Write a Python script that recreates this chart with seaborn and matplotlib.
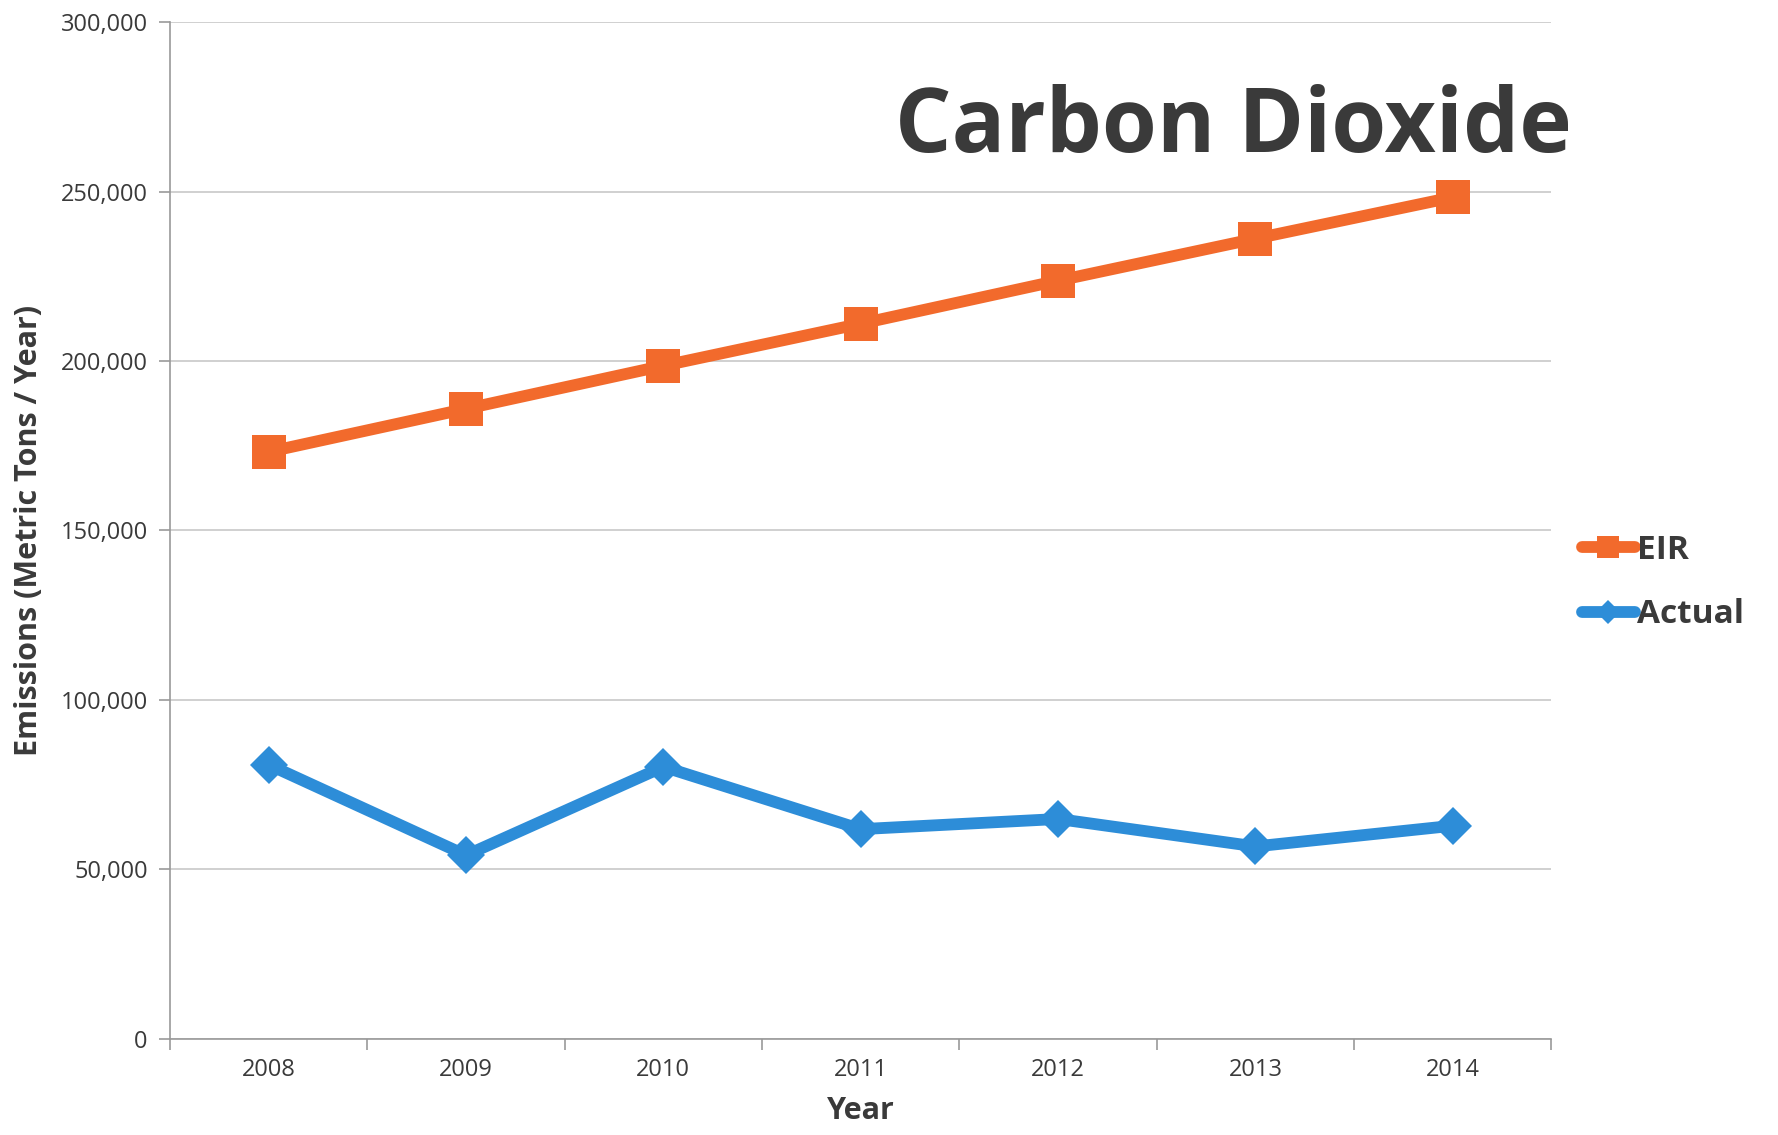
import matplotlib.pyplot as plt
import pandas as pd
import seaborn as sns
from matplotlib.ticker import FuncFormatter

years = ["2008", "2009", "2010", "2011", "2012", "2013", "2014"]
eir_values = [173200, 185900, 198600, 211000, 223700, 236100, 248300]
actual_values = [80900, 54200, 80300, 61900, 64900, 56800, 62900]
y_ticks = [0, 50000, 100000, 150000, 200000, 250000, 300000]

ORANGE = "#F26A2C"
BLUE = "#2D8DD8"
TEXT = "#3a3a3a"

sns.set_theme(style="white")
plt.rcParams["font.family"] = ["Open Sans", "DejaVu Sans"]

df = pd.DataFrame({"Year": years, "EIR": eir_values, "Actual": actual_values})

fig = plt.figure(figsize=(17.78, 11.35), dpi=100)
ax = fig.add_axes([0.0956, 0.0846, 0.777, 0.896])

sns.lineplot(data=df, x="Year", y="EIR", ax=ax, color=ORANGE, lw=8.5,
             marker="s", markersize=25, markeredgewidth=0, label="EIR", sort=False)
sns.lineplot(data=df, x="Year", y="Actual", ax=ax, color=BLUE, lw=8.5,
             marker="D", markersize=19, markeredgewidth=0, label="Actual", sort=False)

ax.set_xlim(-0.5, len(years) - 0.5)
ax.set_ylim(0, 300000)
ax.set_yticks(y_ticks)
ax.yaxis.set_major_formatter(FuncFormatter(lambda v, p: f"{int(v):,}"))
ax.grid(axis="y", color="#c8c8c8", lw=1.2)
ax.set_axisbelow(True)

# category boundary ticks on the x axis
ax.set_xticks([i - 0.5 for i in range(len(years) + 1)], minor=True)
ax.tick_params(axis="x", which="major", length=0, pad=14, labelsize=17, labelcolor=TEXT)
ax.tick_params(axis="x", which="minor", length=8, color="#999999", width=1.2, direction="out")
ax.tick_params(axis="y", length=8, color="#999999", width=1.2, direction="out",
               labelsize=17, labelcolor=TEXT, pad=8)
ax.yaxis.set_ticks_position("left")
ax.xaxis.set_ticks_position("bottom")

for side in ["top", "right"]:
    ax.spines[side].set_visible(False)
for side in ["left", "bottom"]:
    ax.spines[side].set_color("#999999")
    ax.spines[side].set_linewidth(1.2)

ax.set_xlabel("Year", fontsize=22, fontweight="bold", color=TEXT, labelpad=10)
ax.set_ylabel("Emissions (Metric Tons / Year)", fontsize=22, fontweight="bold",
              color=TEXT, labelpad=12)

fig.text(0.884, 0.886, "Carbon Dioxide", fontsize=64, fontweight="bold",
         color=TEXT, ha="right", va="center")

ax.legend(loc="center left", bbox_to_anchor=(1.005, 0.449), frameon=False,
          handlelength=1.6, handletextpad=0.05, labelspacing=0.95, markerscale=0.65,
          borderpad=0.2, prop={"weight": "bold", "size": 24})
for t in ax.get_legend().get_texts():
    t.set_color(TEXT)

fig.savefig("out.png", dpi=100)
